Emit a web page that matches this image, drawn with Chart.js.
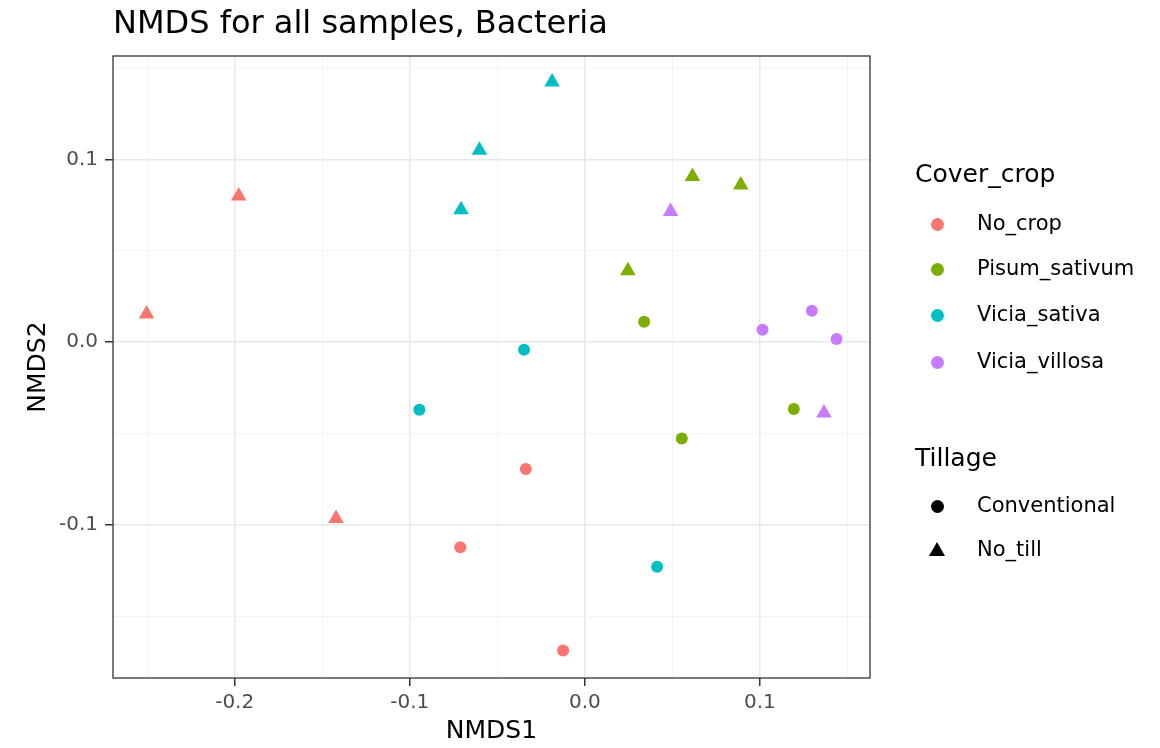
<!DOCTYPE html>
<html>
<head>
<meta charset="utf-8">
<script src="https://cdn.jsdelivr.net/npm/chart.js@4.4.1/dist/chart.umd.min.js"></script>
<style>
  body { margin: 0; background: #fff; font-family: "DejaVu Sans", sans-serif; }
  #wrap { position: relative; width: 1160px; height: 748px; }
  #plot { position: absolute; left: 0; top: 0; }
  #title { position: absolute; left: 113px; top: 6px; font-size: 32px; line-height: 32px; color: #000; white-space: nowrap; }
  .lg-title { position: absolute; left: 915px; font-size: 25px; line-height: 25px; color: #000; }
  .lg-item { position: absolute; left: 977px; font-size: 21px; line-height: 21px; color: #000; white-space: nowrap; }
  .key { position: absolute; }
  .key.circle { width: 13px; height: 13px; border-radius: 50%; }
  .key.tri { width: 0; height: 0; border-left: 8px solid transparent; border-right: 8px solid transparent; border-bottom: 14px solid #000; }
</style>
</head>
<body>
<div id="wrap">
  <canvas id="plot" width="1160" height="748"></canvas>
  <div id="title">NMDS for all samples, Bacteria</div>
</div>
<script>
const coverCrops = ['No_crop', 'Pisum_sativum', 'Vicia_sativa', 'Vicia_villosa'];
const cropColors = ['#F8766D', '#7CAE00', '#00BFC4', '#C77CFF'];
const tillages = ['Conventional', 'No_till'];

// one entry per sample
const sampleCrop = [
  'No_crop', 'No_crop', 'No_crop', 'No_crop', 'No_crop', 'No_crop',
  'Vicia_sativa', 'Vicia_sativa', 'Vicia_sativa', 'Vicia_sativa', 'Vicia_sativa', 'Vicia_sativa',
  'Pisum_sativum', 'Pisum_sativum', 'Pisum_sativum', 'Pisum_sativum', 'Pisum_sativum', 'Pisum_sativum',
  'Vicia_villosa', 'Vicia_villosa', 'Vicia_villosa', 'Vicia_villosa', 'Vicia_villosa'
];
const sampleTillage = [
  'No_till', 'No_till', 'No_till', 'Conventional', 'Conventional', 'Conventional',
  'No_till', 'No_till', 'No_till', 'Conventional', 'Conventional', 'Conventional',
  'No_till', 'No_till', 'No_till', 'Conventional', 'Conventional', 'Conventional',
  'No_till', 'No_till', 'Conventional', 'Conventional', 'Conventional'
];
const nmds1 = [
  -0.1977, -0.2503, -0.1421, -0.0711, -0.0337, -0.0124,
  -0.0602, -0.0707, -0.0187, -0.0347, -0.0945, 0.0413,
  0.0615, 0.0891, 0.0246, 0.0339, 0.1194, 0.0554,
  0.0490, 0.1366, 0.1015, 0.1297, 0.1438
];
const nmds2 = [
  0.0800, 0.0154, -0.0964, -0.1121, -0.0693, -0.1686,
  0.1050, 0.0724, 0.1423, -0.0041, -0.0369, -0.1228,
  0.0906, 0.0859, 0.0391, 0.0112, -0.0365, -0.0527,
  0.0715, -0.0387, 0.0068, 0.0172, 0.0017
];

const xRange = [-0.2695, 0.1629];
const yRange = [-0.1836, 0.1565];
const xTicks = [-0.25, -0.2, -0.15, -0.1, -0.05, 0, 0.05, 0.1, 0.15];
const yTicks = [-0.15, -0.1, -0.05, 0, 0.05, 0.1, 0.15];

function isMajor(v) {
  return Math.abs(v * 10 - Math.round(v * 10)) < 1e-6;
}

let datasets = [];
coverCrops.forEach(function (crop, ci) {
  tillages.forEach(function (till) {
    let pts = [];
    for (let i = 0; i < nmds1.length; i++) {
      if (sampleCrop[i] === crop && sampleTillage[i] === till) {
        pts.push({x: nmds1[i], y: nmds2[i]});
      }
    }
    datasets.push({
      label: crop + ' / ' + till,
      data: pts,
      pointStyle: till === 'No_till' ? 'triangle' : 'circle',
      pointRadius: till === 'No_till' ? 9 : 6,
      pointHoverRadius: till === 'No_till' ? 9 : 6,
      backgroundColor: cropColors[ci],
      borderWidth: 0
    });
  });
});

const panelBorder = {
  id: 'panelBorder',
  afterDraw(chart) {
    const a = chart.chartArea;
    const c = chart.ctx;
    c.save();
    c.strokeStyle = '#333333';
    c.lineWidth = 1.3;
    c.strokeRect(a.left, a.top, a.right - a.left, a.bottom - a.top);
    c.restore();
  }
};

function axis(range, ticks, titleText, isX) {
  return {
    type: 'linear',
    min: range[0],
    max: range[1],
    afterBuildTicks: function (scale) {
      scale.ticks = ticks.map(function (v) { return {value: v}; });
    },
    afterFit: function (scale) {
      if (isX) scale.height = 70; else scale.width = 113;
    },
    grid: {
      color: function (ctx) { return ctx.tick && isMajor(ctx.tick.value) ? '#e8e8e8' : '#f3f3f3'; },
      lineWidth: function (ctx) { return ctx.tick && isMajor(ctx.tick.value) ? 1.5 : 1; },
      tickColor: function (ctx) { return ctx.tick && isMajor(ctx.tick.value) ? '#333333' : 'rgba(0,0,0,0)'; },
      tickLength: 8,
      drawTicks: true
    },
    border: { display: false },
    ticks: {
      autoSkip: false,
      maxRotation: 0,
      padding: isX ? 5 : 7,
      color: '#4d4d4d',
      font: { family: 'DejaVu Sans', size: 20 },
      callback: function (v) { return isMajor(v) ? v.toFixed(1) : ''; }
    },
    title: {
      display: true,
      text: titleText,
      color: '#000',
      font: { family: 'DejaVu Sans', size: 25, lineHeight: 1 },
      padding: isX ? {top: 0, bottom: 4} : {top: 26, bottom: 0}
    }
  };
}

new Chart(document.getElementById('plot').getContext('2d'), {
  type: 'scatter',
  data: { datasets: datasets },
  options: {
    responsive: false,
    animation: false,
    layout: { padding: { top: 56, right: 290, bottom: 0, left: 0 } },
    plugins: {
      legend: { display: false },
      tooltip: { enabled: false }
    },
    scales: {
      x: axis(xRange, xTicks, 'NMDS1', true),
      y: axis(yRange, yTicks, 'NMDS2', false)
    }
  },
  plugins: [panelBorder]
});

// legend, built from the same category arrays
const wrap = document.getElementById('wrap');
function addDiv(cls, text, left, top, style) {
  const d = document.createElement('div');
  d.className = cls;
  if (text) d.textContent = text;
  d.style.top = top + 'px';
  if (left !== null) d.style.left = left + 'px';
  if (style) Object.assign(d.style, style);
  wrap.appendChild(d);
}
const cropRowY = [224, 269, 315, 362];
addDiv('lg-title', 'Cover_crop', null, 173 - 12);
coverCrops.forEach(function (crop, i) {
  addDiv('key circle', '', 931, cropRowY[i] - 6, { background: cropColors[i] });
  addDiv('lg-item', crop, null, cropRowY[i] - 11);
});
const tillRowY = [506, 550];
addDiv('lg-title', 'Tillage', null, 457 - 12);
tillages.forEach(function (till, i) {
  if (till === 'No_till') addDiv('key tri', '', 929, tillRowY[i] - 8);
  else addDiv('key circle', '', 931, tillRowY[i] - 6, { background: '#000' });
  addDiv('lg-item', till, null, tillRowY[i] - 11);
});
</script>
</body>
</html>
